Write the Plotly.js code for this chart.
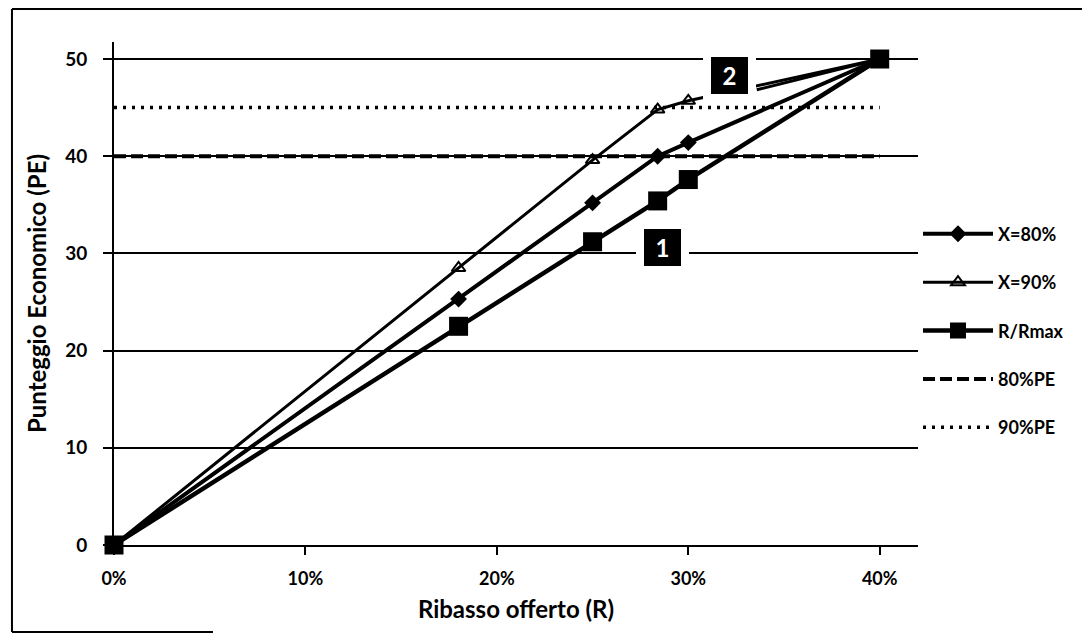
<!DOCTYPE html>
<html>
<head>
<meta charset="utf-8">
<script src="https://cdn.plot.ly/plotly-3.0.1.min.js"></script>
<style>html,body{margin:0;padding:0;background:#fff;}#chart{width:1082px;height:636px;}</style>
</head>
<body>
<div id="chart"></div>
<script>
// Data
const ribasso = [0, 0.18, 0.25, 0.284, 0.30, 0.40];
const x80 = [0, 25.3, 35.2, 40.0, 41.4, 50];
const x90 = [0, 28.5, 39.6, 44.8, 45.7, 50];
const rRmax = [0, 22.5, 31.2, 35.4, 37.6, 50];
const peLineX = [0, 0.40];
const pe80 = [40, 40];
const pe90 = [45, 45];
const seriesNames = ["X=80%", "X=90%", "R/Rmax", "80%PE", "90%PE"];
const xTickVals = [0, 0.1, 0.2, 0.3, 0.4];
const yTickVals = [0, 10, 20, 30, 40, 50];

const FONT = "Lato, 'Open Sans', sans-serif";

const traces = [
  {x: ribasso, y: x80, name: seriesNames[0], mode: "lines+markers", legendgroup: "a", cliponaxis: false,
   line: {color: "#000", width: 4}, marker: {symbol: "diamond", size: 13, color: "#000"}},
  {x: ribasso, y: x90, name: seriesNames[1], mode: "lines+markers", legendgroup: "b", cliponaxis: false,
   line: {color: "#000", width: 3}, marker: {symbol: "triangle-up-open", size: 12, color: "#000", line: {width: 2, color: "#000"}}},
  {x: ribasso, y: rRmax, name: seriesNames[2], mode: "lines+markers", legendgroup: "c", cliponaxis: false,
   line: {color: "#000", width: 4.5}, marker: {symbol: "square", size: 19, color: "#000"}},
  {x: peLineX, y: pe80, name: seriesNames[3], mode: "lines", legendgroup: "d",
   line: {color: "#000", width: 4, dash: "12px,5px"}},
  {x: peLineX, y: pe90, name: seriesNames[4], mode: "lines", legendgroup: "e",
   line: {color: "#000", width: 3.5, dash: "3px,6px"}}
];

const layout = {
  width: 1082, height: 636,
  margin: {l: 114, r: 164, t: 42, b: 91},
  paper_bgcolor: "#fff", plot_bgcolor: "#fff",
  font: {family: FONT, color: "#000"},
  showlegend: true,
  legend: {x: 1.0, xanchor: "left", y: 0.655, yanchor: "top", traceorder: "grouped", tracegroupgap: 22,
           font: {family: FONT, size: 18, color: "#000", weight: "bold"}, itemwidth: 70, bgcolor: "rgba(0,0,0,0)"},
  xaxis: {
    range: [0, 0.42], tickvals: xTickVals, tickformat: ".0%",
    showgrid: false, zeroline: false, showline: true, linecolor: "#000", linewidth: 2,
    ticks: "outside", ticklen: 8, tickwidth: 2, tickcolor: "#000", ticklabelstandoff: 8,
    tickfont: {family: FONT, size: 18, weight: "bold"},
    title: {text: "Ribasso offerto (R)", font: {family: FONT, size: 24, weight: "bold"}, standoff: 14}
  },
  yaxis: {
    range: [0, 51.75], tickvals: yTickVals,
    showgrid: true, gridcolor: "#000", gridwidth: 2, zeroline: false,
    showline: true, linecolor: "#000", linewidth: 2,
    ticks: "outside", ticklen: 9, tickwidth: 2, tickcolor: "#000", ticklabelstandoff: 12,
    tickfont: {family: FONT, size: 19, weight: "bold"},
    title: {text: "Punteggio Economico (PE)", font: {family: FONT, size: 24, weight: "bold"}, standoff: 12}
  },
  annotations: [
    {x: 0.2867, y: 30.6, xref: "x", yref: "y", text: "1", showarrow: false,
     font: {family: FONT, size: 24, color: "#fff", weight: "bold"},
     bgcolor: "#000", bordercolor: "#fff", borderwidth: 8, borderpad: 6, width: 25, height: 25},
    {x: 0.3217, y: 48.3, xref: "x", yref: "y", text: "2", showarrow: false,
     font: {family: FONT, size: 24, color: "#fff", weight: "bold"},
     bgcolor: "#000", bordercolor: "#fff", borderwidth: 8, borderpad: 6, width: 25, height: 25},
    {x: 0.40, y: 50, xref: "x", yref: "y", ax: 0.335, ay: 46.8, axref: "x", ayref: "y",
     text: "", showarrow: true, arrowhead: 0, arrowwidth: 3, arrowcolor: "#000", standoff: 12}
  ],
  shapes: [
    {type: "line", xref: "paper", yref: "paper", x0: -0.1269, x1: 1.204, y0: 1.0656, y1: 1.0656, line: {color: "#000", width: 2}},
    {type: "line", xref: "paper", yref: "paper", x0: -0.1269, x1: -0.1269, y0: 1.0656, y1: -0.173, line: {color: "#000", width: 2}},
    {type: "line", xref: "paper", yref: "paper", x0: -0.1269, x1: 0.1231, y0: -0.173, y1: -0.173, line: {color: "#000", width: 2}}
  ]
};

Plotly.newPlot("chart", traces, layout, {displayModeBar: false, staticPlot: true});
</script>
</body>
</html>
